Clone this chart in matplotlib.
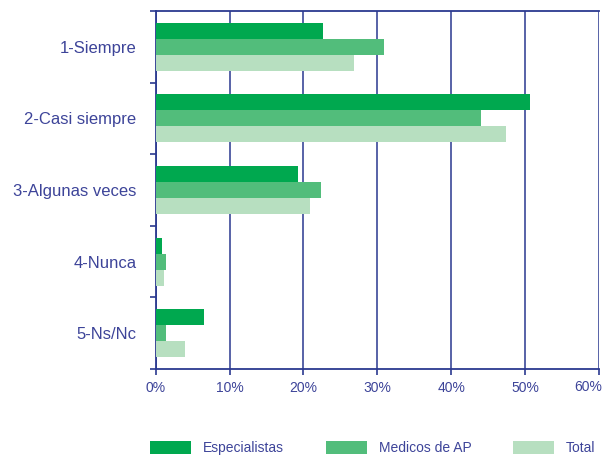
import matplotlib.pyplot as plt
from matplotlib.ticker import FuncFormatter, MultipleLocator
import numpy as np

plt.rcParams['font.family'] = ['Liberation Sans', 'DejaVu Sans']

categories = ['1-Siempre', '2-Casi siempre', '3-Algunas veces', '4-Nunca', '5-Ns/Nc']
series_names = ['Especialistas', 'Medicos de AP', 'Total']
especialistas = [22.6, 50.7, 19.2, 0.8, 6.5]
medicos_ap = [30.9, 44.0, 22.4, 1.4, 1.4]
total = [26.8, 47.4, 20.9, 1.1, 3.9]

colors = ['#00A84F', '#52BD7B', '#B7DFC0']
navy = '#2B3990'
text_color = '#3D4499'
x_max = 60

fig = plt.figure(figsize=(6.03, 4.57), dpi=100)
ax = fig.add_axes([0.2582, 0.1926, 0.7352, 0.7834])

y = np.arange(len(categories))
h = 0.223
for i, (vals, name) in enumerate(zip([especialistas, medicos_ap, total], series_names)):
    ax.barh(y + (i - 1) * h, vals, height=h, color=colors[i], label=name, zorder=3)

ax.set_xlim(0, x_max)
ax.set_ylim(len(categories) - 0.5, -0.5)
ax.xaxis.set_major_locator(MultipleLocator(10))
# last label is drawn by hand so it stays inside the figure edge
ax.xaxis.set_major_formatter(FuncFormatter(lambda v, p: '' if v >= x_max else f'{v:.0f}%'))
ax.annotate(f'{x_max}%', xy=(1, 0), xycoords='axes fraction', xytext=(2.2, -7.9),
            textcoords='offset points', ha='right', va='top', fontsize=10, color=text_color)
ax.grid(axis='x', color=navy, linewidth=1.3, alpha=0.85, zorder=1)

ax.set_yticks(y)
ax.set_yticklabels(categories)
ax.set_yticks(np.arange(-0.5, len(categories)), minor=True)
ax.tick_params(axis='y', which='major', length=0, pad=14, labelsize=12, labelcolor=text_color)
ax.tick_params(axis='y', which='minor', length=4, width=1.2, color=navy)
ax.tick_params(axis='x', which='major', length=4, width=1.2, color=navy,
               labelsize=10, labelcolor=text_color, pad=5)

for s in ax.spines.values():
    s.set_color(navy)
    s.set_linewidth(1.3)
ax.spines['right'].set_visible(False)

fig.legend(loc='lower left', bbox_to_anchor=(0.24, -0.008), ncol=3, frameon=False,
           fontsize=10, labelcolor=text_color, handlelength=2.95, handleheight=1.08,
           handletextpad=0.86, columnspacing=3.0, borderaxespad=0.0)

fig.savefig('out.png', dpi=100)
